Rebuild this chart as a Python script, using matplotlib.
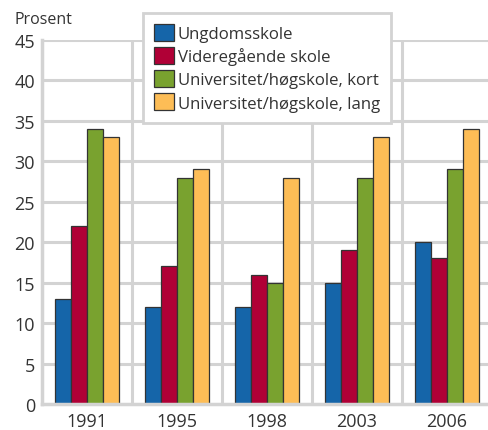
import numpy as np
import matplotlib.pyplot as plt
from matplotlib.patches import Patch

plt.rcParams['font.family'] = ['Open Sans', 'DejaVu Sans']

years = ['1991', '1995', '1998', '2003', '2006']
series_names = ['Ungdomsskole', 'Videregående skole',
                'Universitet/høgskole, kort', 'Universitet/høgskole, lang']
ungdomsskole = [13, 12, 12, 15, 20]
videregaende = [22, 17, 16, 19, 18]
uni_kort = [34, 28, 15, 28, 29]
uni_lang = [33, 29, 28, 33, 34]

colors = ['#1565a9', '#b00036', '#79a22f', '#fdbd56']
grid_col = '#d3d3d3'
text_col = '#333333'

fig = plt.figure(figsize=(4.88, 4.31), dpi=100)
ax = fig.add_axes([42 / 488, 1 - 405 / 431, 1 - 42 / 488, (405 - 41) / 431])

x = np.arange(len(years))
w = 0.178
for i, (vals, c) in enumerate(zip([ungdomsskole, videregaende, uni_kort, uni_lang], colors)):
    ax.bar(x + (i - 1.5) * w, vals, width=w, color=c, edgecolor='#333333',
           linewidth=0.9, zorder=3)

ax.set_xlim(-0.5, -0.5 + 446 / 90)
ax.set_ylim(0, 45)
ax.set_yticks(range(0, 46, 5))
ax.set_xticks(x)
ax.set_xticklabels(years)

for yv in range(5, 46, 5):
    ax.axhline(yv, color=grid_col, lw=2.2, zorder=1)
for xv in x[:-1] + 0.5:
    ax.axvline(xv, color=grid_col, lw=2.2, zorder=1)

for s in ['top', 'right']:
    ax.spines[s].set_visible(False)
for s in ['left', 'bottom']:
    ax.spines[s].set_color(grid_col)
    ax.spines[s].set_linewidth(2.5)
    ax.spines[s].set_zorder(4)

ax.tick_params(length=0, labelsize=13, colors=text_col)
ax.tick_params(axis='x', pad=6)
ax.tick_params(axis='y', pad=5)

fig.text(15 / 488, 1 - 20 / 431, 'Prosent', fontsize=11.5, color=text_col,
         va='center', ha='left')

handles = [Patch(facecolor=c, edgecolor='#333333', linewidth=0.9) for c in colors]
leg = fig.legend(handles, series_names, loc='upper left',
                 bbox_to_anchor=(143 / 488, 1 - 14 / 431),
                 bbox_transform=fig.transFigure, fontsize=12.1,
                 handlelength=1.17, handleheight=1.17, handletextpad=0.25,
                 labelspacing=0.3, borderpad=0.65, borderaxespad=0,
                 fancybox=False, framealpha=1, edgecolor=grid_col)
leg.get_frame().set_linewidth(2)
for t in leg.get_texts():
    t.set_color(text_col)

fig.savefig('out.png', dpi=100)
